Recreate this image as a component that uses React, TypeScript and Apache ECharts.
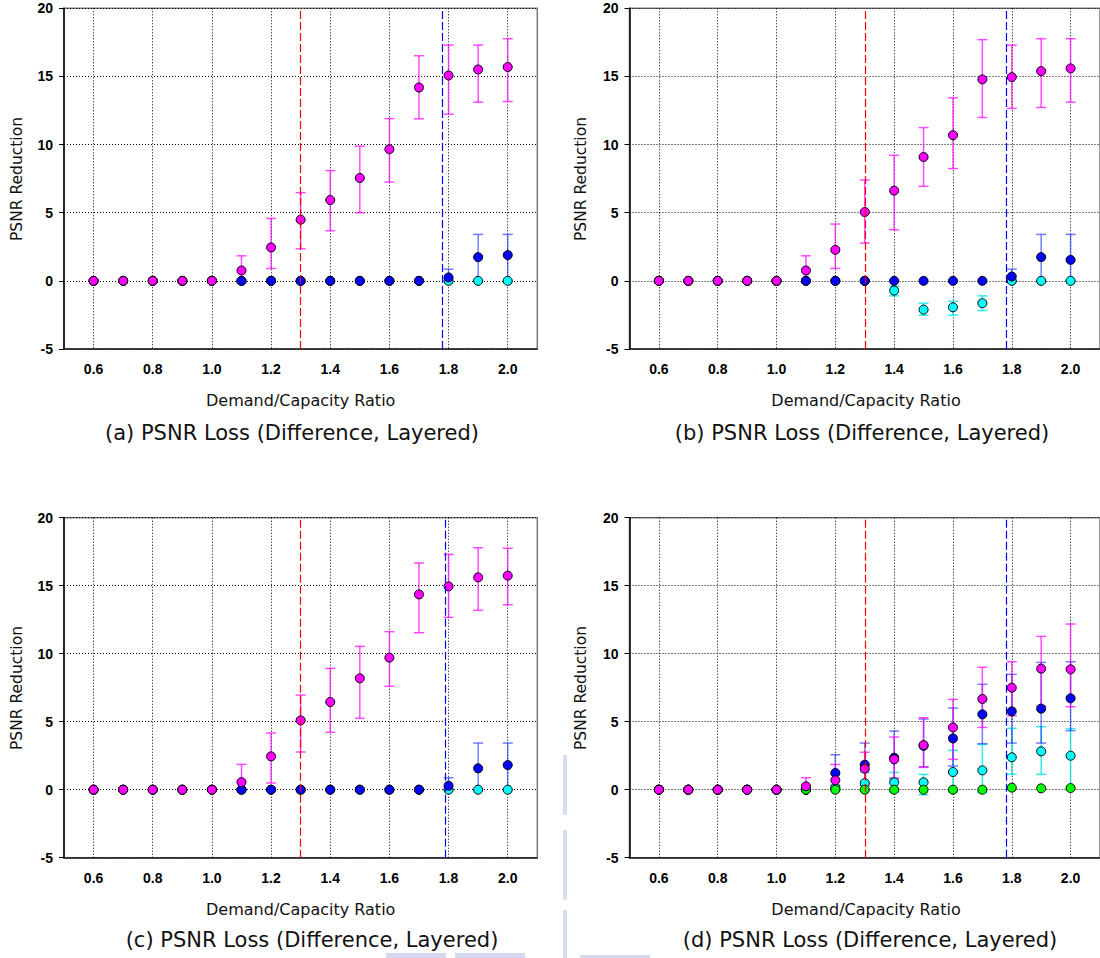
import React, { useEffect, useRef } from "react";
import * as echarts from "echarts";

// Demand/Capacity ratio (x categories)
const X = [0.6, 0.7, 0.8, 0.9, 1.0, 1.1, 1.2, 1.3, 1.4, 1.5, 1.6, 1.7, 1.8, 1.9, 2.0];
const X_TICKS = [0.6, 0.8, 1.0, 1.2, 1.4, 1.6, 1.8, 2.0];
const Y_TICKS_INTERVAL = 5;
const RED_LINE = 1.296;
const BLUE_LINE = [1.782, 1.782, 1.787, 1.782];
const CAPTIONS = [
  "(a) PSNR Loss (Difference, Layered)",
  "(b) PSNR Loss (Difference, Layered)",
  "(c) PSNR Loss (Difference, Layered)",
  "(d) PSNR Loss (Difference, Layered)",
];
const X_TITLE = "Demand/Capacity Ratio";
const Y_TITLE = "PSNR Reduction";

// Panel (a)
const magA = [0, 0, 0, 0, 0, 0.76, 2.45, 4.49, 5.93, 7.55, 9.66, 14.19, 15.07, 15.51, 15.69];
const magAHi = [0, 0, 0, 0, 0, 1.84, 4.58, 6.47, 8.09, 9.88, 11.91, 16.52, 17.3, 17.3, 17.77];
const magALo = [0, 0, 0, 0, 0, -0.1, 0.91, 2.35, 3.68, 5.0, 7.25, 11.89, 12.23, 13.11, 13.16];
const bluA = [0, 0, 0, 0, 0, 0, 0, 0, 0, 0, 0, 0, 0.25, 1.74, 1.89];
const bluAHi = [0, 0, 0, 0, 0, 0, 0, 0, 0, 0, 0, 0, 0.86, 3.41, 3.41];
const bluALo = [0, 0, 0, 0, 0, 0, 0, 0, 0, 0, 0, 0, 0, 0, 0];
const cyaA = [0, 0, 0, 0, 0, 0, 0, 0, 0, 0, 0, 0, 0, 0, 0];

// Panel (b)
const magB = [0, 0, 0, 0, 0, 0.76, 2.28, 5.05, 6.62, 9.09, 10.69, 14.78, 14.95, 15.39, 15.59];
const magBHi = [0, 0, 0, 0, 0, 1.84, 4.17, 7.4, 9.22, 11.25, 13.43, 17.7, 17.3, 17.77, 17.77];
const magBLo = [0, 0, 0, 0, 0, -0.1, 0.91, 2.77, 3.75, 6.94, 8.24, 11.99, 12.65, 12.72, 13.11];
const bluB = [0, 0, 0, 0, 0, 0, 0, 0, 0, 0, 0, 0, 0.32, 1.74, 1.54];
const bluBHi = [0, 0, 0, 0, 0, 0, 0, 0, 0, 0, 0, 0, 0.86, 3.41, 3.41];
const bluBLo = [0, 0, 0, 0, 0, 0, 0, 0, 0, 0, 0, 0, 0, 0, 0];
const cyaB = [0, 0, 0, 0, 0, 0, 0, 0, -0.71, -2.11, -1.94, -1.64, 0, 0, 0];
const cyaBHi = [0, 0, 0, 0, 0, 0, 0, 0, -0.39, -1.64, -1.5, -1.1, 0, 0, 0];
const cyaBLo = [0, 0, 0, 0, 0, 0, 0, 0, -1.1, -2.52, -2.52, -2.18, 0, 0, 0];

// Panel (c)
const magC = [0, 0, 0, 0, 0, 0.56, 2.45, 5.1, 6.45, 8.19, 9.71, 14.36, 14.95, 15.61, 15.74];
const magCHi = [0, 0, 0, 0, 0, 1.86, 4.17, 6.96, 8.92, 10.54, 11.62, 16.67, 17.3, 17.79, 17.75];
const magCLo = [0, 0, 0, 0, 0, -0.1, 0.49, 2.77, 4.22, 5.25, 7.6, 11.54, 12.67, 13.19, 13.6];
const bluC = [0, 0, 0, 0, 0, 0, 0, 0, 0, 0, 0, 0, 0.29, 1.57, 1.81];
const bluCHi = [0, 0, 0, 0, 0, 0, 0, 0, 0, 0, 0, 0, 0.88, 3.43, 3.43];
const bluCLo = [0, 0, 0, 0, 0, 0, 0, 0, 0, 0, 0, 0, 0, 0, 0];
const cyaC = [0, 0, 0, 0, 0, 0, 0, 0, 0, 0, 0, 0, 0, 0, 0];

// Panel (d)
const magD = [0, 0, 0, 0, 0, 0.25, 0.69, 1.54, 2.23, 3.28, 4.58, 6.67, 7.5, 8.9, 8.85];
const magDHi = [0, 0, 0, 0, 0, 0.88, 1.86, 2.75, 3.87, 5.29, 6.64, 9.0, 9.41, 11.27, 12.18];
const magDLo = [0, 0, 0, 0, 0, 0, 0, 0.3, 0.83, 1.64, 2.23, 4.58, 5.44, 6.15, 6.1];
const bluD = [0, 0, 0, 0, 0, 0, 1.23, 1.84, 2.35, 3.23, 3.77, 5.54, 5.76, 5.96, 6.72];
const bluDHi = [0, 0, 0, 0, 0, 0, 2.57, 3.43, 4.31, 5.2, 6.0, 7.75, 8.48, 9.36, 9.41];
const bluDLo = [0, 0, 0, 0, 0, 0, 0, 0, 0.83, 1.69, 1.74, 3.38, 3.43, 3.43, 4.34];
const cyaD = [0, 0, 0, 0, 0, 0, 0.17, 0.49, 0.54, 0.54, 1.3, 1.42, 2.38, 2.82, 2.5];
const cyaDHi = [0, 0, 0, 0, 0, 0, 0.3, 1.27, 1.27, 1.13, 2.89, 3.33, 4.51, 4.63, 4.49];
const cyaDLo = [0, 0, 0, 0, 0, 0, 0, 0, -0.17, -0.37, -0.17, -0.22, 1.13, 1.13, 0];
const grnD = [0, 0, 0, 0, 0, 0, 0, 0, 0, 0, 0, 0, 0.15, 0.1, 0.12];

const MAG = "#ff00ff";
const BLU = "#0000ff";
const CYA = "#00ffff";
const GRN = "#00ff00";

type Ser = { color: string; bar: string; v: number[]; lo?: number[]; hi?: number[] };

const PANELS: Ser[][] = [
  [
    { color: CYA, bar: "rgba(0,230,230,0.8)", v: cyaA },
    { color: BLU, bar: "rgba(20,40,255,0.6)", v: bluA, lo: bluALo, hi: bluAHi },
    { color: MAG, bar: "rgba(255,0,255,0.7)", v: magA, lo: magALo, hi: magAHi },
  ],
  [
    { color: CYA, bar: "rgba(0,230,230,0.8)", v: cyaB, lo: cyaBLo, hi: cyaBHi },
    { color: BLU, bar: "rgba(20,40,255,0.6)", v: bluB, lo: bluBLo, hi: bluBHi },
    { color: MAG, bar: "rgba(255,0,255,0.7)", v: magB, lo: magBLo, hi: magBHi },
  ],
  [
    { color: CYA, bar: "rgba(0,230,230,0.8)", v: cyaC },
    { color: BLU, bar: "rgba(20,40,255,0.6)", v: bluC, lo: bluCLo, hi: bluCHi },
    { color: MAG, bar: "rgba(255,0,255,0.7)", v: magC, lo: magCLo, hi: magCHi },
  ],
  [
    { color: CYA, bar: "rgba(0,230,230,0.8)", v: cyaD, lo: cyaDLo, hi: cyaDHi },
    { color: BLU, bar: "rgba(20,40,255,0.6)", v: bluD, lo: bluDLo, hi: bluDHi },
    { color: GRN, bar: "rgba(0,220,0,0.8)", v: grnD },
    { color: MAG, bar: "rgba(255,0,255,0.7)", v: magD, lo: magDLo, hi: magDHi },
  ],
];

const GRIDS = [
  { left: 64, top: 8.3, width: 473.3, height: 340.7 },
  { left: 629.5, top: 8.3, width: 473, height: 340.7 },
  { left: 64, top: 517.7, width: 473.3, height: 340 },
  { left: 629.5, top: 517.7, width: 473, height: 340 },
];
const X_TITLE_POS = [[300.7, 400], [866, 400], [300.7, 909], [866, 909]];
const Y_TITLE_POS = [[16.5, 179], [581, 179], [16.5, 688], [581, 688]];
const CAPTION_POS = [[292, 433], [862, 433], [312, 940], [870, 940]];

export default function App() {
  const ref = useRef<HTMLDivElement>(null);
  useEffect(() => {
    if (!ref.current) return;
    const chart = echarts.init(ref.current, undefined, { renderer: "svg" });

    const grid: any[] = [];
    const xAxis: any[] = [];
    const yAxis: any[] = [];
    const series: any[] = [];
    const graphic: any[] = [];

    const dotted = { color: "#000", width: 1, type: [1, 2] };
    const tickFont = {
      fontFamily: "Arial",
      fontWeight: "bold",
      fontSize: 14,
      color: "#000",
    };

    PANELS.forEach((panel, p) => {
      grid.push({
        ...GRIDS[p],
        show: true,
        borderColor: "#7a7a7a",
        borderWidth: 1.5,
        backgroundColor: "transparent",
      });
      xAxis.push({
        type: "value",
        gridIndex: p,
        min: 0.5,
        max: 2.1,
        axisLine: { show: true, onZero: false, lineStyle: { color: "#222", width: 1.5 } },
        axisTick: { show: false, customValues: X_TICKS },
        axisLabel: {
          customValues: X_TICKS,
          formatter: (v: number) => v.toFixed(1),
          ...tickFont,
          margin: 13,
        },
        splitLine: { show: true, lineStyle: dotted },
      });
      yAxis.push({
        type: "value",
        gridIndex: p,
        min: -5,
        max: 20,
        interval: Y_TICKS_INTERVAL,
        axisLine: { show: true, onZero: false, lineStyle: { color: "#000", width: 1.5 } },
        axisTick: { show: true, length: 5, lineStyle: { color: "#000", width: 1 } },
        axisLabel: { ...tickFont, margin: 11 },
        splitLine: { show: true, lineStyle: dotted },
      });

      panel.forEach((s, si) => {
        if (s.lo && s.hi) {
          const errData: number[][] = [];
          X.forEach((x, i) => {
            if (s.hi![i] !== s.lo![i]) errData.push([x, s.lo![i], s.hi![i]]);
          });
          const barColor = s.bar;
          series.push({
            type: "custom",
            xAxisIndex: p,
            yAxisIndex: p,
            silent: true,
            encode: { x: 0, y: [1, 2] },
            data: errData,
            renderItem: (params: any, api: any) => {
              const x = api.value(0);
              const lo = api.coord([x, api.value(1)]);
              const hi = api.coord([x, api.value(2)]);
              const hw = 5;
              const st = { stroke: barColor, lineWidth: 1.5 };
              return {
                type: "group",
                children: [
                  { type: "line", shape: { x1: lo[0], y1: lo[1], x2: hi[0], y2: hi[1] }, style: st },
                  { type: "line", shape: { x1: hi[0] - hw, y1: hi[1], x2: hi[0] + hw, y2: hi[1] }, style: st },
                  { type: "line", shape: { x1: lo[0] - hw, y1: lo[1], x2: lo[0] + hw, y2: lo[1] }, style: st },
                ],
              };
            },
          });
        }
        const sc: any = {
          type: "scatter",
          xAxisIndex: p,
          yAxisIndex: p,
          symbol: "circle",
          symbolSize: 9,
          silent: true,
          itemStyle: { color: s.color, borderColor: "#000", borderWidth: 1, opacity: 1 },
          data: X.map((x, i) => [x, s.v[i]]),
        };
        if (si === 0) {
          sc.markLine = {
            silent: true,
            symbol: ["none", "none"],
            label: { show: false },
            lineStyle: { type: [8, 3], width: 1.2 },
            data: [
              { xAxis: RED_LINE, lineStyle: { color: "#ff0000", type: [8, 3], width: 1.2 } },
              { xAxis: BLUE_LINE[p], lineStyle: { color: "#0000ff", type: [8, 3], width: 1.2 } },
            ],
          };
        }
        series.push(sc);
      });

      graphic.push({
        type: "text",
        x: X_TITLE_POS[p][0],
        y: X_TITLE_POS[p][1],
        style: {
          text: X_TITLE,
          fontFamily: "DejaVu Sans",
          fontSize: 16,
          fill: "#111",
          textAlign: "center",
          textVerticalAlign: "middle",
        },
      });
      graphic.push({
        type: "text",
        x: Y_TITLE_POS[p][0],
        y: Y_TITLE_POS[p][1],
        rotation: Math.PI / 2,
        style: {
          text: Y_TITLE,
          fontFamily: "DejaVu Sans",
          fontSize: 15.5,
          fill: "#111",
          textAlign: "center",
          textVerticalAlign: "middle",
        },
      });
      graphic.push({
        type: "text",
        x: CAPTION_POS[p][0],
        y: CAPTION_POS[p][1],
        style: {
          text: CAPTIONS[p],
          fontFamily: "DejaVu Sans",
          fontSize: 21,
          fill: "#111",
          textAlign: "center",
          textVerticalAlign: "middle",
        },
      });
    });

    // faint scan artefacts (watermark traces)
    graphic.push(
      { type: "rect", shape: { x: 386, y: 953, width: 60, height: 5 }, style: { fill: "#c3cbea", opacity: 0.7 }, z: -1 },
      { type: "rect", shape: { x: 455, y: 953, width: 70, height: 5 }, style: { fill: "#c3cbea", opacity: 0.7 }, z: -1 },
      { type: "rect", shape: { x: 563, y: 755, width: 4, height: 60 }, style: { fill: "#b6c1e8", opacity: 0.55 }, z: -1 },
      { type: "rect", shape: { x: 563, y: 830, width: 4, height: 70 }, style: { fill: "#b6c1e8", opacity: 0.55 }, z: -1 },
      { type: "rect", shape: { x: 563, y: 910, width: 4, height: 48 }, style: { fill: "#b6c1e8", opacity: 0.55 }, z: -1 },
      { type: "rect", shape: { x: 580, y: 955, width: 70, height: 3 }, style: { fill: "#c3cbea", opacity: 0.7 }, z: -1 }
    );

    chart.setOption({
      animation: false,
      backgroundColor: "#fff",
      grid,
      xAxis,
      yAxis,
      series,
      graphic,
    });
    return () => chart.dispose();
  }, []);
  return (
    <div
      ref={ref}
      style={{ position: "absolute", left: 0, top: 0, width: 1100, height: 958, background: "#fff" }}
    />
  );
}
